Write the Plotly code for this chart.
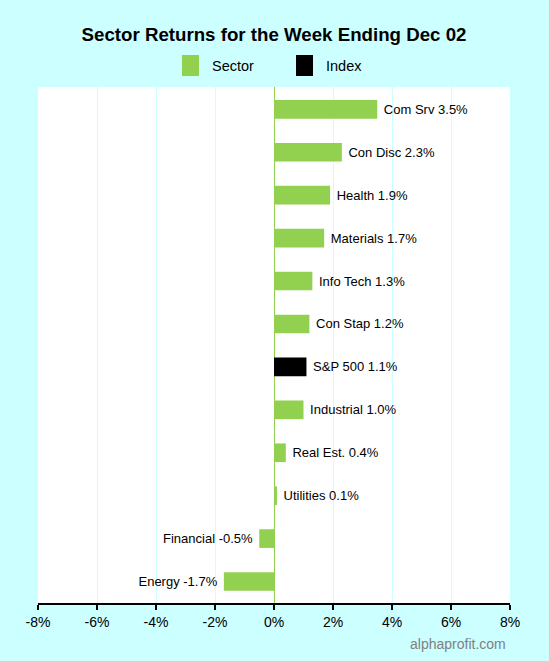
import plotly.graph_objects as go

sectors = ["Com Srv", "Con Disc", "Health", "Materials", "Info Tech", "Con Stap",
           "S&P 500", "Industrial", "Real Est.", "Utilities", "Financial", "Energy"]
returns = [3.5, 2.3, 1.9, 1.7, 1.3, 1.2, 1.1, 1.0, 0.4, 0.1, -0.5, -1.7]
index_name = "S&P 500"
tick_vals = [-8, -6, -4, -2, 0, 2, 4, 6, 8]
tick_text = ["-8%", "-6%", "-4%", "-2%", "0%", "2%", "4%", "6%", "8%"]
legend_names = ["Sector", "Index"]

GREEN = "#92d050"
BG = "#ccffff"
FONT = "Arial, Liberation Sans, sans-serif"

W, H = 549, 661
ML, MR, MT, MB = 38, 39, 87, 58
PW, PH = W - ML - MR, H - MT - MB


def px_x(x):
    return (x - ML) / PW


def px_y(y):
    return (H - MB - y) / PH


NB = "\u00a0"


def labels(names, vals):
    out = []
    for n, v in zip(names, vals):
        t = f"{n} {v:.1f}%"
        out.append(NB + t if v >= 0 else t + NB)
    return out


sec_y = [s for s in sectors if s != index_name]
sec_x = [v for s, v in zip(sectors, returns) if s != index_name]
idx_x = [v for s, v in zip(sectors, returns) if s == index_name]

fig = go.Figure()
fig.add_trace(go.Bar(
    name=legend_names[0], y=sec_y, x=sec_x, orientation="h",
    marker=dict(color=GREEN, line=dict(width=0)), width=0.435,
    text=labels(sec_y, sec_x), textposition="outside", cliponaxis=False,
    textfont=dict(family=FONT, size=13, color="black"), showlegend=False,
))
fig.add_trace(go.Bar(
    name=legend_names[1], y=[index_name], x=idx_x, orientation="h",
    marker=dict(color="black", line=dict(width=0)), width=0.435,
    text=labels([index_name], idx_x), textposition="outside", cliponaxis=False,
    textfont=dict(family=FONT, size=13, color="black"), showlegend=False,
))

fig.update_layout(
    width=W, height=H,
    paper_bgcolor=BG, plot_bgcolor="white",
    barmode="overlay",
    font=dict(family=FONT, size=14, color="black"),
    title=dict(text="<b>Sector Returns for the Week Ending Dec 02</b>",
               x=0.5, xref="paper", xanchor="center", y=1 - 34 / H, yanchor="middle",
               font=dict(family=FONT, size=18.7, color="black")),
    margin=dict(l=ML, r=MR, t=MT, b=MB, pad=0),
    showlegend=False,
)

# legend drawn as swatches + labels
legend_colors = [GREEN, "black"]
swatch_left = [182, 296]
for name, col, x0 in zip(legend_names, legend_colors, swatch_left):
    fig.add_shape(type="rect", xref="paper", yref="paper",
                  x0=px_x(x0), x1=px_x(x0 + 17), y0=px_y(76), y1=px_y(55),
                  fillcolor=col, line=dict(width=0))
    fig.add_annotation(text=name, xref="paper", yref="paper",
                       x=px_x(x0 + 28), xanchor="left", y=px_y(66), yanchor="middle",
                       showarrow=False, font=dict(family=FONT, size=14.5, color="black"))

fig.update_xaxes(
    range=[-8, 8], tickvals=tick_vals, ticktext=tick_text,
    showgrid=True, gridcolor=BG, gridwidth=1,
    zeroline=True, zerolinecolor=GREEN, zerolinewidth=1,
    showline=True, linecolor="black", linewidth=1.5,
    ticks="outside", ticklen=5, tickcolor="black", tickwidth=1.5,
    tickfont=dict(family=FONT, size=14),
)
fig.update_yaxes(
    type="category", categoryorder="array", categoryarray=sectors,
    range=[11.5, -0.52], showticklabels=False, showgrid=False, zeroline=False,
    showline=False, ticks="",
)
fig.add_annotation(text="alphaprofit.com", x=px_x(508), xref="paper", xanchor="right",
                   y=px_y(644), yref="paper", yanchor="middle", showarrow=False,
                   font=dict(family=FONT, size=14, color="#808080"))

fig.write_html("out.html", config={"displayModeBar": False},
               post_script="document.body.style.margin='0px';")
